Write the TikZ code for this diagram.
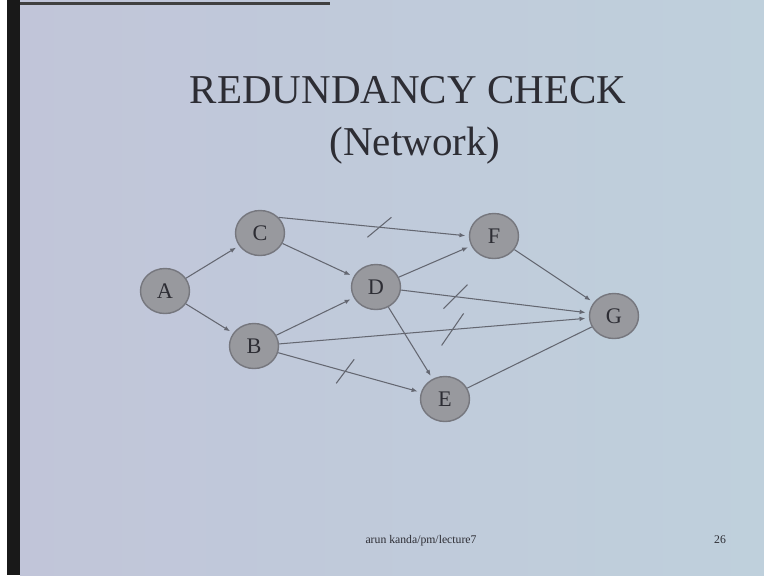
\documentclass[tikz,border=0pt]{standalone}
\usepackage{fontspec}
\setmainfont{Liberation Serif}
\usepackage{tikz}
\usetikzlibrary{arrows.meta, positioning, shapes.geometric, calc}
\usepackage{xcolor}
\definecolor{slideleft}{RGB}{193,197,217}
\definecolor{slideright}{RGB}{191,208,220}
\definecolor{nodefill}{RGB}{152,153,158}
\definecolor{nodeedge}{RGB}{118,119,126}
\definecolor{edgegray}{RGB}{100,103,113}
\definecolor{inkgray}{RGB}{45,45,52}

\begin{document}
\begin{tikzpicture}[x=0.03cm, y=-0.03cm,
    activity/.style={ellipse, draw=nodeedge, line width=1.2pt, fill=nodefill,
      minimum width=1.47cm, minimum height=1.35cm, inner sep=0pt,
      font=\fontsize{19}{19}\selectfont, text=inkgray},
    link/.style={draw=edgegray, line width=0.9pt, -{Latex[length=5pt,width=4pt]}, shorten >=3pt},
    cutmark/.style={draw=edgegray, line width=0.9pt}]
    \useasboundingbox (0,0) rectangle (764,575);
    % slide and frame
    \fill[white] (0,0) rectangle (7,575);
    \fill[black!90] (7,0) rectangle (20,575);
    \shade[left color=slideleft, right color=slideright] (20,0) rectangle (764,575);
    \fill[black!75] (20,2) rectangle (330,4.5);

    \node[anchor=base, font=\fontsize{35}{35}\selectfont, text=inkgray] (title) at (408,103) {REDUNDANCY CHECK};
    \node[anchor=base, font=\fontsize{35}{35}\selectfont, text=inkgray] (subtitle) at (415,155) {(Network)};

    % activities
    \node[activity] (A) at (165,291) {A};
    \node[activity] (C) at (260,233) {C};
    \node[activity] (B) at (254,346) {B};
    \node[activity] (D) at (376,287) {D};
    \node[activity] (F) at (494,236) {F};
    \node[activity] (G) at (614,316) {G};
    \node[activity] (E) at (445,399) {E};

    \draw[link] (A) -- (C);
    \draw[link] (A) -- (B);
    \draw[link] (C) -- (D);
    \draw[link] (C.40) -- (F.west) coordinate[pos=0.53] (cf);
    \draw[link] (B) -- (D);
    \draw[link] (B) -- (G) coordinate[pos=0.56] (bg);
    \draw[link] (B) -- (E) coordinate[pos=0.47] (be);
    \draw[link] (D) -- (F);
    \draw[link] (D) -- (G) coordinate[pos=0.29] (dg);
    \draw[link] (D) -- (E);
    \draw[link] (F) -- (G);
    \draw[cutmark] (E) -- (G);

    % redundant links
    \draw[cutmark] ($(cf)+(-12,10)$) -- ($(cf)+(12,-10)$);
    \draw[cutmark] ($(dg)+(-12,12)$) -- ($(dg)+(12,-12)$);
    \draw[cutmark] ($(bg)+(-11,16)$) -- ($(bg)+(11,-16)$);
    \draw[cutmark] ($(be)+(-9,12)$) -- ($(be)+(9,-12)$);

    \node[anchor=base, font=\fontsize{10}{10}\selectfont, text=inkgray] (footer) at (421,543) {arun kanda/pm/lecture7};
    \node[anchor=base, font=\fontsize{10}{10}\selectfont, text=inkgray] (page) at (720,543) {26};
\end{tikzpicture}
\end{document}
